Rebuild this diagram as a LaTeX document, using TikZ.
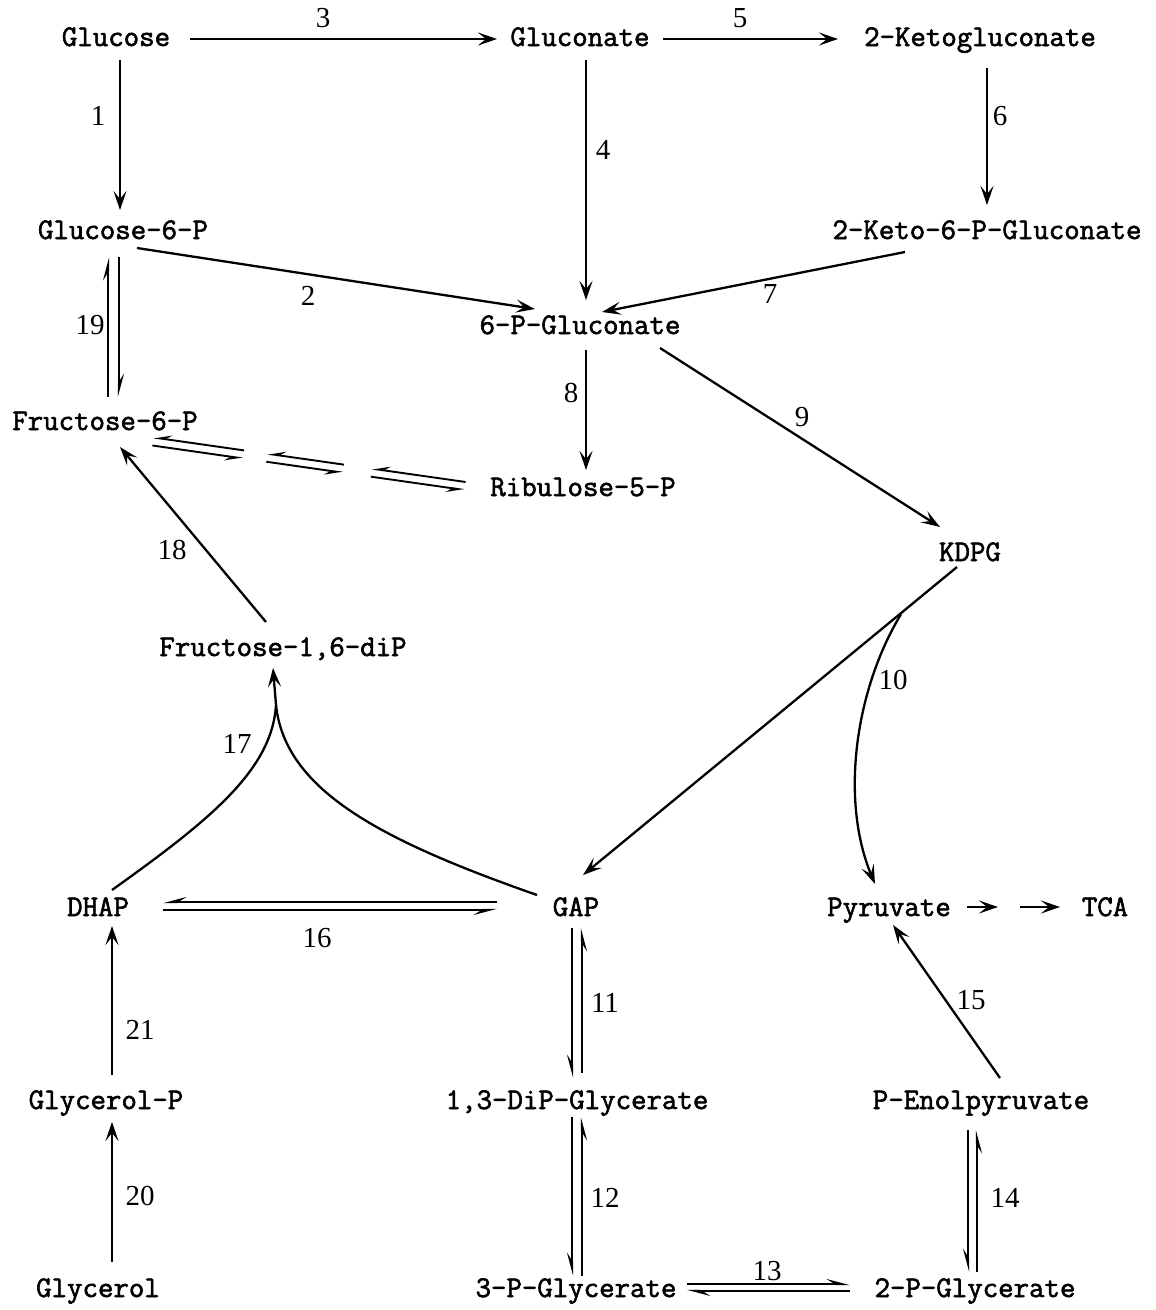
\documentclass[tikz,border=0pt]{standalone}
\usepackage{fontspec}
\newfontfamily\labfont[FakeBold=2]{Latin Modern Mono}
\newfontfamily\numfont{Liberation Serif}
\usetikzlibrary{arrows.meta,calc}
\begin{document}
\begin{tikzpicture}[x=1pt,y=-1pt,
  met/.style={inner sep=0pt,font=\labfont\fontsize{30}{34}\selectfont,text height=18pt,text depth=0pt},
  num/.style={inner sep=0pt,font=\numfont\fontsize{29}{32}\selectfont},
  link/.style={line width=2.3pt},
  arr/.style={link,-{Stealth[length=19pt,width=13pt,inset=8pt]}},
  hp/.style={link,-{Stealth[length=19pt,width=10pt,inset=8pt,harpoon]}},
  hps/.style={link,-{Stealth[length=19pt,width=10pt,inset=8pt,harpoon,swap]}},
  dhps/.style={line width=1.9pt,-{Stealth[length=15pt,width=9pt,inset=6pt,harpoon,swap]}}]
\useasboundingbox (0,0) rectangle (1156,1310);

% metabolites
\node[met] (glc)  at (116,37)   {Glucose};
\node[met] (gln)  at (580,37)   {Gluconate};
\node[met] (kg)   at (980,37)   {2-Ketogluconate};
\node[met] (g6p)  at (123,230)  {Glucose-6-P};
\node[met] (k6pg) at (987,230)  {2-Keto-6-P-Gluconate};
\node[met] (pg6)  at (580,325)  {6-P-Gluconate};
\node[met] (f6p)  at (105,421)  {Fructose-6-P};
\node[met] (ru5p) at (583,487)  {Ribulose-5-P};
\node[met] (kdpg) at (970,552)  {KDPG};
\node[met] (fbp)  at (283,647)  {Fructose-1,6-diP};
\node[met] (dhap) at (98,907)   {DHAP};
\node[met] (gap)  at (576,907)  {GAP};
\node[met] (pyr)  at (889,907)  {Pyruvate};
\node[met] (tca)  at (1105,907) {TCA};
\node[met] (glp)  at (106,1100) {Glycerol-P};
\node[met] (dpg)  at (577,1100) {1,3-DiP-Glycerate};
\node[met] (pep)  at (981,1100) {P-Enolpyruvate};
\node[met] (glyc) at (98,1288)  {Glycerol};
\node[met] (pg3)  at (576,1288) {3-P-Glycerate};
\node[met] (pg2)  at (975,1288) {2-P-Glycerate};

% reaction numbers
\node[num] (n1)  at (98,116)   {1};
\node[num] (n2)  at (308,296)  {2};
\node[num] (n3)  at (323,18)   {3};
\node[num] (n4)  at (603,150)  {4};
\node[num] (n5)  at (740,18)   {5};
\node[num] (n6)  at (1000,116) {6};
\node[num] (n7)  at (770,294)  {7};
\node[num] (n8)  at (571,393)  {8};
\node[num] (n9)  at (802,417)  {9};
\node[num] (n10) at (893,680)  {10};
\node[num] (n11) at (605,1003) {11};
\node[num] (n12) at (605,1198) {12};
\node[num] (n13) at (767,1271) {13};
\node[num] (n14) at (1005,1198) {14};
\node[num] (n15) at (971,1000) {15};
\node[num] (n16) at (317,938)  {16};
\node[num] (n17) at (237,744)  {17};
\node[num] (n18) at (172,550)  {18};
\node[num] (n19) at (90,325)   {19};
\node[num] (n20) at (140,1196) {20};
\node[num] (n21) at (140,1030) {21};

% one-way steps
\draw[arr] ($(glc)+(74,2)$) -- ($(gln)+(-83,2)$);
\draw[arr] ($(gln)+(83,2)$) -- ($(kg)+(-142,2)$);
\draw[arr] ($(glc)+(4,23)$) -- ($(g6p)+(-3,-20)$);
\draw[arr] ($(kg)+(7,31)$) -- ($(k6pg)+(0,-25)$);
\draw[arr] ($(gln)+(6,23)$) -- ($(pg6)+(6,-25)$);
\draw[arr] ($(g6p)+(14,18)$) -- ($(pg6)+(-45,-16)$);
\draw[arr] ($(k6pg)+(-82,22)$) -- ($(pg6)+(22,-13)$);
\draw[arr] ($(pg6)+(6,25)$) -- ($(ru5p)+(3,-17)$);
\draw[arr] ($(pg6)+(80,23)$) -- ($(kdpg)+(-30,-25)$);
\draw[arr] ($(fbp)+(-17,-25)$) -- ($(f6p)+(15,26)$);
\draw[arr] ($(kdpg)+(-13,15)$) -- ($(gap)+(7,-32)$);
\coordinate (kbr) at ($(kdpg)!0.175!(gap)$);
\draw[arr] (kbr) .. controls (855,690) and (840,800) .. ($(pyr)+(-14,-23)$);
\draw[arr] ($(pep)+(19,-22)$) -- ($(pyr)+(4,18)$);
\draw[arr] ($(glp)+(6,-25)$) -- ($(dhap)+(14,19)$);
\draw[arr] ($(glyc)+(14,-26)$) -- ($(glp)+(6,22)$);

% DHAP and GAP both feed the aldolase step
\coordinate (fj) at ($(fbp)+(-7,58)$);
\draw[link] ($(dhap)+(14,-17)$) .. controls (210,820) and (272,770) .. (fj);
\draw[link] ($(gap)+(-39,-12)$) .. controls (380,840) and (285,790) .. (fj);
\draw[arr] (fj) -- ($(fbp)+(-10,21)$);

% pyruvate onward
\coordinate (pm1) at ($(pyr)+(109,0)$);
\coordinate (pm2) at ($(pyr)+(131,0)$);
\draw[arr] ($(pyr)+(78,0)$) -- (pm1);
\draw[arr] (pm2) -- ($(tca)+(-45,0)$);

% reversible steps
\draw[hp] ($(f6p)+(3,-24)$) -- ($(g6p)+(-15,27)$);
\draw[hp] ($(g6p)+(-4,27)$) -- ($(f6p)+(14,-24)$);
\draw[hps] ($(gap)+(-79,-5)$) -- ($(dhap)+(65,-5)$);
\draw[hps] ($(dhap)+(65,3)$) -- ($(gap)+(-79,3)$);
\draw[hps] ($(gap)+(-4,21)$) -- ($(dpg)+(-5,-22)$);
\draw[hps] ($(dpg)+(5,-27)$) -- ($(gap)+(6,21)$);
\draw[hps] ($(dpg)+(-5,17)$) -- ($(pg3)+(-4,-12)$);
\draw[hps] ($(pg3)+(6,-12)$) -- ($(dpg)+(5,17)$);
\draw[hps] ($(pep)+(-13,30)$) -- ($(pg2)+(-7,-16)$);
\draw[hps] ($(pg2)+(2,-16)$) -- ($(pep)+(-4,30)$);
\draw[hp] ($(pg3)+(111,-4)$) -- ($(pg2)+(-125,-4)$);
\draw[hp] ($(pg2)+(-125,3)$) -- ($(pg3)+(111,3)$);

% broken reversible link Fructose-6-P / Ribulose-5-P
\coordinate (fa) at ($(f6p)+(48,20.5)$);
\coordinate (rb) at ($(ru5p)+(-118,-1)$);
\foreach \s/\e in {0/0.29, 0.365/0.61, 0.70/1}{
  \draw[dhps] ($(fa)!\e!(rb)+(0.6,-4)$) -- ($(fa)!\s!(rb)+(0.6,-4)$);
  \draw[dhps] ($(fa)!\s!(rb)+(-0.6,4)$) -- ($(fa)!\e!(rb)+(-0.6,4)$);
}
\end{tikzpicture}
\end{document}
